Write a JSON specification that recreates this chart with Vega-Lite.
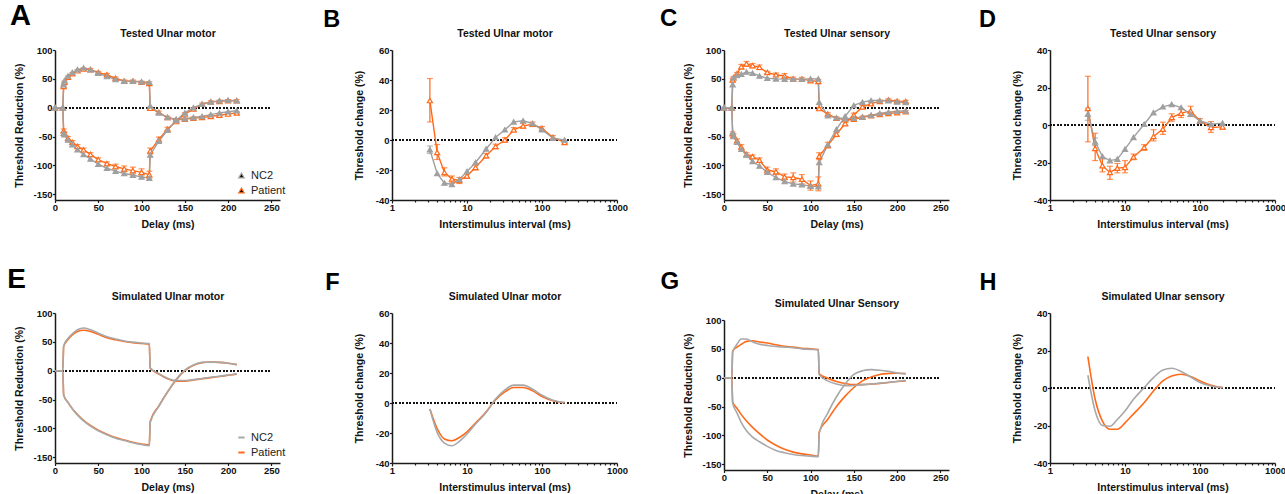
{
"$schema": "https://vega.github.io/schema/vega-lite/v6.json",
"background": "white",
"padding": {"left": 7, "top": 2, "right": 5, "bottom": 2},
"columns": 4,
"spacing": {"row": 113, "column": 101},
"bounds": "flush",
"align": "each",
"resolve": {"scale": {"stroke": "independent", "fill": "independent", "color": "independent", "x": "independent", "y": "independent"}},
"datasets": {
"A": [
{"s":"Patient","c":"d","x":0,"y":0},{"s":"Patient","c":"d","x":9,"y":0},
{"s":"Patient","c":"d","x":10,"y":37,"lo":35,"hi":39},{"s":"Patient","c":"d","x":11,"y":44,"lo":42,"hi":46},
{"s":"Patient","c":"d","x":15,"y":53,"lo":51,"hi":55},{"s":"Patient","c":"d","x":20,"y":59,"lo":57,"hi":61},
{"s":"Patient","c":"d","x":26,"y":64,"lo":62,"hi":66},{"s":"Patient","c":"d","x":33,"y":67,"lo":65,"hi":69},
{"s":"Patient","c":"d","x":41,"y":66,"lo":64,"hi":68},{"s":"Patient","c":"d","x":50,"y":61,"lo":59,"hi":63},
{"s":"Patient","c":"d","x":60,"y":57,"lo":54.5,"hi":59.5},{"s":"Patient","c":"d","x":70,"y":51,"lo":49,"hi":53},
{"s":"Patient","c":"d","x":80,"y":46,"lo":44,"hi":48},{"s":"Patient","c":"d","x":90,"y":46,"lo":44,"hi":48},
{"s":"Patient","c":"d","x":100,"y":44,"lo":42,"hi":46},{"s":"Patient","c":"d","x":109,"y":42,"lo":39,"hi":45},
{"s":"Patient","c":"d","x":110,"y":-1,"lo":-3,"hi":1},{"s":"Patient","c":"d","x":120,"y":-8,"lo":-10,"hi":-6},
{"s":"Patient","c":"d","x":130,"y":-17,"lo":-19,"hi":-15},{"s":"Patient","c":"d","x":140,"y":-21,"lo":-23,"hi":-19},
{"s":"Patient","c":"d","x":150,"y":-20,"lo":-22,"hi":-18},{"s":"Patient","c":"d","x":160,"y":-18,"lo":-20,"hi":-16},
{"s":"Patient","c":"d","x":170,"y":-17,"lo":-19,"hi":-15},{"s":"Patient","c":"d","x":180,"y":-15,"lo":-17,"hi":-13},
{"s":"Patient","c":"d","x":190,"y":-13,"lo":-15,"hi":-11},{"s":"Patient","c":"d","x":200,"y":-11,"lo":-13,"hi":-9},
{"s":"Patient","c":"d","x":210,"y":-9,"lo":-11,"hi":-7},
{"s":"Patient","c":"h","x":0,"y":0},{"s":"Patient","c":"h","x":9,"y":0},
{"s":"Patient","c":"h","x":10,"y":-40,"lo":-43,"hi":-37},{"s":"Patient","c":"h","x":11,"y":-45,"lo":-48,"hi":-42},
{"s":"Patient","c":"h","x":15,"y":-53,"lo":-56,"hi":-50},{"s":"Patient","c":"h","x":20,"y":-60,"lo":-63,"hi":-57},
{"s":"Patient","c":"h","x":26,"y":-67,"lo":-70,"hi":-64},{"s":"Patient","c":"h","x":33,"y":-73,"lo":-76,"hi":-70},
{"s":"Patient","c":"h","x":41,"y":-81,"lo":-84,"hi":-78},{"s":"Patient","c":"h","x":50,"y":-90,"lo":-93,"hi":-87},
{"s":"Patient","c":"h","x":60,"y":-97,"lo":-100,"hi":-94},{"s":"Patient","c":"h","x":70,"y":-102,"lo":-106,"hi":-98},
{"s":"Patient","c":"h","x":80,"y":-106,"lo":-111,"hi":-101},{"s":"Patient","c":"h","x":90,"y":-109,"lo":-115,"hi":-103},
{"s":"Patient","c":"h","x":100,"y":-112,"lo":-118,"hi":-106},{"s":"Patient","c":"h","x":109,"y":-116,"lo":-122,"hi":-110},
{"s":"Patient","c":"h","x":110,"y":-75,"lo":-80,"hi":-70},{"s":"Patient","c":"h","x":120,"y":-55,"lo":-59,"hi":-51},
{"s":"Patient","c":"h","x":130,"y":-37,"lo":-40,"hi":-34},{"s":"Patient","c":"h","x":140,"y":-24,"lo":-26,"hi":-22},
{"s":"Patient","c":"h","x":150,"y":-11,"lo":-13,"hi":-9},{"s":"Patient","c":"h","x":160,"y":-2,"lo":-4,"hi":0},
{"s":"Patient","c":"h","x":170,"y":6,"lo":4,"hi":8},{"s":"Patient","c":"h","x":180,"y":10,"lo":8,"hi":12},
{"s":"Patient","c":"h","x":190,"y":11,"lo":9,"hi":13},{"s":"Patient","c":"h","x":200,"y":12,"lo":10,"hi":14},
{"s":"Patient","c":"h","x":210,"y":12,"lo":10,"hi":14},
{"s":"NC2","c":"d","x":0,"y":0},{"s":"NC2","c":"d","x":9,"y":0},{"s":"NC2","c":"d","x":10,"y":40},{"s":"NC2","c":"d","x":11,"y":47},
{"s":"NC2","c":"d","x":15,"y":55},{"s":"NC2","c":"d","x":20,"y":61},{"s":"NC2","c":"d","x":26,"y":66},{"s":"NC2","c":"d","x":33,"y":69},
{"s":"NC2","c":"d","x":41,"y":66},{"s":"NC2","c":"d","x":50,"y":60},{"s":"NC2","c":"d","x":60,"y":54},{"s":"NC2","c":"d","x":70,"y":49},
{"s":"NC2","c":"d","x":80,"y":46},{"s":"NC2","c":"d","x":90,"y":46},{"s":"NC2","c":"d","x":100,"y":45},{"s":"NC2","c":"d","x":109,"y":44},
{"s":"NC2","c":"d","x":110,"y":3},{"s":"NC2","c":"d","x":120,"y":-9},{"s":"NC2","c":"d","x":130,"y":-17},{"s":"NC2","c":"d","x":140,"y":-20},
{"s":"NC2","c":"d","x":150,"y":-19},{"s":"NC2","c":"d","x":160,"y":-17},{"s":"NC2","c":"d","x":170,"y":-15},{"s":"NC2","c":"d","x":180,"y":-12},
{"s":"NC2","c":"d","x":190,"y":-9},{"s":"NC2","c":"d","x":200,"y":-7},{"s":"NC2","c":"d","x":210,"y":-5},
{"s":"NC2","c":"h","x":0,"y":0},{"s":"NC2","c":"h","x":9,"y":0},{"s":"NC2","c":"h","x":10,"y":-44},{"s":"NC2","c":"h","x":11,"y":-47},
{"s":"NC2","c":"h","x":15,"y":-56},{"s":"NC2","c":"h","x":20,"y":-64},{"s":"NC2","c":"h","x":26,"y":-73},{"s":"NC2","c":"h","x":33,"y":-81},
{"s":"NC2","c":"h","x":41,"y":-89},{"s":"NC2","c":"h","x":50,"y":-98},{"s":"NC2","c":"h","x":60,"y":-105},{"s":"NC2","c":"h","x":70,"y":-110},
{"s":"NC2","c":"h","x":80,"y":-114},{"s":"NC2","c":"h","x":90,"y":-117},{"s":"NC2","c":"h","x":100,"y":-120},{"s":"NC2","c":"h","x":109,"y":-122},
{"s":"NC2","c":"h","x":110,"y":-82},{"s":"NC2","c":"h","x":120,"y":-58},{"s":"NC2","c":"h","x":130,"y":-39},{"s":"NC2","c":"h","x":140,"y":-22},
{"s":"NC2","c":"h","x":150,"y":-9},{"s":"NC2","c":"h","x":160,"y":0},{"s":"NC2","c":"h","x":170,"y":6},{"s":"NC2","c":"h","x":180,"y":10},
{"s":"NC2","c":"h","x":190,"y":12},{"s":"NC2","c":"h","x":200,"y":13},{"s":"NC2","c":"h","x":210,"y":12}
],
"B": [
{"s":"Patient","x":3.2,"y":26.3,"lo":12,"hi":41},{"s":"Patient","x":4,"y":-8.3,"lo":-13,"hi":-3},
{"s":"Patient","x":5,"y":-21.6,"lo":-24,"hi":-18.5},{"s":"Patient","x":6.3,"y":-26,"lo":-28.5,"hi":-24},
{"s":"Patient","x":7.9,"y":-27,"lo":-29,"hi":-25},{"s":"Patient","x":10,"y":-23.9,"lo":-25.5,"hi":-22.5},
{"s":"Patient","x":13,"y":-18.3,"lo":-20,"hi":-16.5},{"s":"Patient","x":18,"y":-10.5,"lo":-12,"hi":-9},
{"s":"Patient","x":24,"y":-4.3,"lo":-5.8,"hi":-2.8},{"s":"Patient","x":32,"y":0,"lo":-1.5,"hi":1.5},
{"s":"Patient","x":42,"y":6.8,"lo":5.3,"hi":8.3},{"s":"Patient","x":56,"y":9.4,"lo":8,"hi":11},
{"s":"Patient","x":75,"y":10.5,"lo":9,"hi":12},{"s":"Patient","x":100,"y":7.7,"lo":6.3,"hi":9},
{"s":"Patient","x":140,"y":1.7,"lo":0.5,"hi":3},{"s":"Patient","x":200,"y":-1.6,"lo":-2.5,"hi":-0.7},
{"s":"NC2","x":3.2,"y":-6.5,"lo":-9,"hi":-4},{"s":"NC2","x":4,"y":-22.3},{"s":"NC2","x":5,"y":-28.7},{"s":"NC2","x":6.3,"y":-29.6},
{"s":"NC2","x":7.9,"y":-26.3},{"s":"NC2","x":10,"y":-21},{"s":"NC2","x":13,"y":-15},{"s":"NC2","x":18,"y":-6},
{"s":"NC2","x":24,"y":1.7},{"s":"NC2","x":32,"y":6.8},{"s":"NC2","x":42,"y":12.1},{"s":"NC2","x":56,"y":12.8},
{"s":"NC2","x":75,"y":11},{"s":"NC2","x":100,"y":6.8},{"s":"NC2","x":140,"y":1.2},{"s":"NC2","x":200,"y":0}
],
"C": [
{"s":"Patient","c":"d","x":0,"y":0},{"s":"Patient","c":"d","x":9,"y":0},
{"s":"Patient","c":"d","x":10,"y":48,"lo":45,"hi":51},{"s":"Patient","c":"d","x":11,"y":52,"lo":50,"hi":54},
{"s":"Patient","c":"d","x":15,"y":59,"lo":57,"hi":61},{"s":"Patient","c":"d","x":20,"y":71,"lo":67,"hi":75},
{"s":"Patient","c":"d","x":26,"y":76,"lo":72,"hi":80},{"s":"Patient","c":"d","x":33,"y":73,"lo":69.5,"hi":76.5},
{"s":"Patient","c":"d","x":41,"y":70,"lo":66,"hi":74},{"s":"Patient","c":"d","x":50,"y":61,"lo":59,"hi":63},
{"s":"Patient","c":"d","x":60,"y":57,"lo":54,"hi":60},{"s":"Patient","c":"d","x":70,"y":55,"lo":51,"hi":59},
{"s":"Patient","c":"d","x":80,"y":50,"lo":47,"hi":53},{"s":"Patient","c":"d","x":90,"y":49.5,"lo":46.5,"hi":52.5},
{"s":"Patient","c":"d","x":100,"y":47,"lo":44,"hi":50},{"s":"Patient","c":"d","x":109,"y":45.5,"lo":42,"hi":49},
{"s":"Patient","c":"d","x":110,"y":-1.5,"lo":-3.5,"hi":0.5},{"s":"Patient","c":"d","x":120,"y":-11,"lo":-13,"hi":-9},
{"s":"Patient","c":"d","x":130,"y":-18,"lo":-20,"hi":-16},{"s":"Patient","c":"d","x":140,"y":-21,"lo":-23,"hi":-19},
{"s":"Patient","c":"d","x":150,"y":-20,"lo":-22,"hi":-18},{"s":"Patient","c":"d","x":160,"y":-16.5,"lo":-18.5,"hi":-14.5},
{"s":"Patient","c":"d","x":170,"y":-14,"lo":-16,"hi":-12},{"s":"Patient","c":"d","x":180,"y":-11.5,"lo":-13.5,"hi":-9.5},
{"s":"Patient","c":"d","x":190,"y":-10,"lo":-12,"hi":-8},{"s":"Patient","c":"d","x":200,"y":-8.5,"lo":-10.5,"hi":-6.5},
{"s":"Patient","c":"d","x":210,"y":-7,"lo":-9,"hi":-5},
{"s":"Patient","c":"h","x":0,"y":0},{"s":"Patient","c":"h","x":9,"y":0},
{"s":"Patient","c":"h","x":10,"y":-45,"lo":-48,"hi":-42},{"s":"Patient","c":"h","x":11,"y":-48,"lo":-51,"hi":-45},
{"s":"Patient","c":"h","x":15,"y":-57,"lo":-60,"hi":-54},{"s":"Patient","c":"h","x":20,"y":-68,"lo":-72,"hi":-64},
{"s":"Patient","c":"h","x":26,"y":-81,"lo":-84,"hi":-78},{"s":"Patient","c":"h","x":33,"y":-85,"lo":-88,"hi":-82},
{"s":"Patient","c":"h","x":41,"y":-91,"lo":-95,"hi":-87},{"s":"Patient","c":"h","x":50,"y":-108,"lo":-113,"hi":-103},
{"s":"Patient","c":"h","x":60,"y":-111,"lo":-116,"hi":-106},{"s":"Patient","c":"h","x":70,"y":-120,"lo":-125,"hi":-115},
{"s":"Patient","c":"h","x":80,"y":-121,"lo":-129,"hi":-113},{"s":"Patient","c":"h","x":90,"y":-124,"lo":-132,"hi":-116},
{"s":"Patient","c":"h","x":100,"y":-135,"lo":-143,"hi":-127},{"s":"Patient","c":"h","x":109,"y":-132,"lo":-144,"hi":-120},
{"s":"Patient","c":"h","x":110,"y":-84,"lo":-90,"hi":-78},{"s":"Patient","c":"h","x":120,"y":-65,"lo":-70,"hi":-60},
{"s":"Patient","c":"h","x":130,"y":-46,"lo":-50,"hi":-42},{"s":"Patient","c":"h","x":140,"y":-27.5,"lo":-31.5,"hi":-23.5},
{"s":"Patient","c":"h","x":150,"y":-12.5,"lo":-15.5,"hi":-9.5},{"s":"Patient","c":"h","x":160,"y":1.3,"lo":-1,"hi":3.6},
{"s":"Patient","c":"h","x":170,"y":7,"lo":5,"hi":9},{"s":"Patient","c":"h","x":180,"y":11,"lo":9,"hi":13},
{"s":"Patient","c":"h","x":190,"y":13.5,"lo":11.5,"hi":15.5},{"s":"Patient","c":"h","x":200,"y":11.3,"lo":9.3,"hi":13.3},
{"s":"Patient","c":"h","x":210,"y":10.7,"lo":8.7,"hi":12.7},
{"s":"NC2","c":"d","x":0,"y":0},{"s":"NC2","c":"d","x":9,"y":0},{"s":"NC2","c":"d","x":10,"y":40},{"s":"NC2","c":"d","x":11,"y":52},
{"s":"NC2","c":"d","x":15,"y":56},{"s":"NC2","c":"d","x":20,"y":58},{"s":"NC2","c":"d","x":26,"y":62},{"s":"NC2","c":"d","x":33,"y":60},
{"s":"NC2","c":"d","x":41,"y":55},{"s":"NC2","c":"d","x":50,"y":51},{"s":"NC2","c":"d","x":60,"y":50},{"s":"NC2","c":"d","x":70,"y":49.5},
{"s":"NC2","c":"d","x":80,"y":49.5},{"s":"NC2","c":"d","x":90,"y":49.5},{"s":"NC2","c":"d","x":100,"y":50},{"s":"NC2","c":"d","x":109,"y":50},
{"s":"NC2","c":"d","x":110,"y":9.6},{"s":"NC2","c":"d","x":120,"y":-14},{"s":"NC2","c":"d","x":130,"y":-17.5},{"s":"NC2","c":"d","x":140,"y":-19},
{"s":"NC2","c":"d","x":150,"y":-18},{"s":"NC2","c":"d","x":160,"y":-16},{"s":"NC2","c":"d","x":170,"y":-13},{"s":"NC2","c":"d","x":180,"y":-10},
{"s":"NC2","c":"d","x":190,"y":-8},{"s":"NC2","c":"d","x":200,"y":-6},{"s":"NC2","c":"d","x":210,"y":-5.5},
{"s":"NC2","c":"h","x":0,"y":0},{"s":"NC2","c":"h","x":9,"y":0},{"s":"NC2","c":"h","x":10,"y":-43},{"s":"NC2","c":"h","x":11,"y":-50},
{"s":"NC2","c":"h","x":15,"y":-60},{"s":"NC2","c":"h","x":20,"y":-72},{"s":"NC2","c":"h","x":26,"y":-82},{"s":"NC2","c":"h","x":33,"y":-93},
{"s":"NC2","c":"h","x":41,"y":-101},{"s":"NC2","c":"h","x":50,"y":-112},{"s":"NC2","c":"h","x":60,"y":-121},{"s":"NC2","c":"h","x":70,"y":-128},
{"s":"NC2","c":"h","x":80,"y":-132},{"s":"NC2","c":"h","x":90,"y":-133.5},{"s":"NC2","c":"h","x":100,"y":-136},{"s":"NC2","c":"h","x":109,"y":-137},
{"s":"NC2","c":"h","x":110,"y":-95},{"s":"NC2","c":"h","x":120,"y":-64},{"s":"NC2","c":"h","x":130,"y":-37.5},{"s":"NC2","c":"h","x":140,"y":-15},
{"s":"NC2","c":"h","x":150,"y":4},{"s":"NC2","c":"h","x":160,"y":9.6},{"s":"NC2","c":"h","x":170,"y":12.4},{"s":"NC2","c":"h","x":180,"y":12.4},
{"s":"NC2","c":"h","x":190,"y":12},{"s":"NC2","c":"h","x":200,"y":10},{"s":"NC2","c":"h","x":210,"y":9}
],
"D": [
{"s":"Patient","x":3.2,"y":8.8,"lo":-9,"hi":26},{"s":"Patient","x":4,"y":-12.5,"lo":-19,"hi":-4.4},
{"s":"Patient","x":5,"y":-21.7,"lo":-25,"hi":-18},{"s":"Patient","x":6.3,"y":-25.3,"lo":-29,"hi":-22},
{"s":"Patient","x":7.9,"y":-23,"lo":-25.5,"hi":-20.5},{"s":"Patient","x":10,"y":-22.6,"lo":-25.5,"hi":-19},
{"s":"Patient","x":13,"y":-17,"lo":-18.5,"hi":-15.5},{"s":"Patient","x":18,"y":-12,"lo":-13.5,"hi":-10.5},
{"s":"Patient","x":24,"y":-6.1,"lo":-8.5,"hi":-2.5},{"s":"Patient","x":32,"y":-2.2,"lo":-5,"hi":1.5},
{"s":"Patient","x":42,"y":4,"lo":2,"hi":6},{"s":"Patient","x":56,"y":6.3,"lo":4,"hi":8.5},
{"s":"Patient","x":75,"y":7.5,"lo":4.5,"hi":10},{"s":"Patient","x":100,"y":2.2,"lo":1,"hi":3.4},
{"s":"Patient","x":140,"y":-1.3,"lo":-4,"hi":1.8},{"s":"Patient","x":200,"y":-1,"lo":-2.3,"hi":0},
{"s":"NC2","x":3.2,"y":5.8,"lo":2.5,"hi":9},{"s":"NC2","x":4,"y":-9,"lo":-11,"hi":-7},{"s":"NC2","x":5,"y":-16.8},{"s":"NC2","x":6.3,"y":-19},
{"s":"NC2","x":7.9,"y":-18.2},{"s":"NC2","x":10,"y":-12.9},{"s":"NC2","x":13,"y":-6.6},{"s":"NC2","x":18,"y":0.4},
{"s":"NC2","x":24,"y":6.6},{"s":"NC2","x":32,"y":9.7},{"s":"NC2","x":42,"y":11},{"s":"NC2","x":56,"y":9.3},
{"s":"NC2","x":75,"y":5.8},{"s":"NC2","x":100,"y":2.2},{"s":"NC2","x":140,"y":0.4},{"s":"NC2","x":200,"y":1}
],
"E": [
{"s":"Patient","c":"d","x":0,"y":0},{"s":"Patient","c":"d","x":9,"y":0},{"s":"Patient","c":"d","x":10,"y":42},{"s":"Patient","c":"d","x":15,"y":54},
{"s":"Patient","c":"d","x":20,"y":62},{"s":"Patient","c":"d","x":26,"y":68},{"s":"Patient","c":"d","x":33,"y":70},{"s":"Patient","c":"d","x":41,"y":68},
{"s":"Patient","c":"d","x":50,"y":63},{"s":"Patient","c":"d","x":60,"y":57},{"s":"Patient","c":"d","x":70,"y":53.5},{"s":"Patient","c":"d","x":80,"y":50.5},
{"s":"Patient","c":"d","x":90,"y":48.5},{"s":"Patient","c":"d","x":100,"y":47},{"s":"Patient","c":"d","x":109,"y":46},{"s":"Patient","c":"d","x":110,"y":4},
{"s":"Patient","c":"d","x":120,"y":-6},{"s":"Patient","c":"d","x":130,"y":-14},{"s":"Patient","c":"d","x":140,"y":-18},{"s":"Patient","c":"d","x":150,"y":-18},
{"s":"Patient","c":"d","x":160,"y":-16},{"s":"Patient","c":"d","x":170,"y":-14},{"s":"Patient","c":"d","x":180,"y":-12},{"s":"Patient","c":"d","x":190,"y":-10},
{"s":"Patient","c":"d","x":200,"y":-8},{"s":"Patient","c":"d","x":210,"y":-6},
{"s":"Patient","c":"h","x":0,"y":0},{"s":"Patient","c":"h","x":9,"y":0},{"s":"Patient","c":"h","x":10,"y":-42},{"s":"Patient","c":"h","x":15,"y":-55},
{"s":"Patient","c":"h","x":20,"y":-66},{"s":"Patient","c":"h","x":26,"y":-76},{"s":"Patient","c":"h","x":33,"y":-86},{"s":"Patient","c":"h","x":41,"y":-95},
{"s":"Patient","c":"h","x":50,"y":-103},{"s":"Patient","c":"h","x":60,"y":-110},{"s":"Patient","c":"h","x":70,"y":-116},{"s":"Patient","c":"h","x":80,"y":-120},
{"s":"Patient","c":"h","x":90,"y":-124},{"s":"Patient","c":"h","x":100,"y":-127},{"s":"Patient","c":"h","x":109,"y":-129},{"s":"Patient","c":"h","x":110,"y":-88},
{"s":"Patient","c":"h","x":120,"y":-61},{"s":"Patient","c":"h","x":130,"y":-37},{"s":"Patient","c":"h","x":140,"y":-16},{"s":"Patient","c":"h","x":150,"y":0},
{"s":"Patient","c":"h","x":160,"y":9.5},{"s":"Patient","c":"h","x":170,"y":14},{"s":"Patient","c":"h","x":180,"y":15},{"s":"Patient","c":"h","x":190,"y":14.5},
{"s":"Patient","c":"h","x":200,"y":13},{"s":"Patient","c":"h","x":210,"y":10.5},
{"s":"NC2","c":"d","x":0,"y":0},{"s":"NC2","c":"d","x":9,"y":0},{"s":"NC2","c":"d","x":10,"y":43},{"s":"NC2","c":"d","x":15,"y":56},
{"s":"NC2","c":"d","x":20,"y":64},{"s":"NC2","c":"d","x":26,"y":71},{"s":"NC2","c":"d","x":33,"y":74},{"s":"NC2","c":"d","x":41,"y":71},
{"s":"NC2","c":"d","x":50,"y":65},{"s":"NC2","c":"d","x":60,"y":59},{"s":"NC2","c":"d","x":70,"y":55},{"s":"NC2","c":"d","x":80,"y":51.5},
{"s":"NC2","c":"d","x":90,"y":49.5},{"s":"NC2","c":"d","x":100,"y":48},{"s":"NC2","c":"d","x":109,"y":47},{"s":"NC2","c":"d","x":110,"y":5},
{"s":"NC2","c":"d","x":120,"y":-5},{"s":"NC2","c":"d","x":130,"y":-13},{"s":"NC2","c":"d","x":140,"y":-17},{"s":"NC2","c":"d","x":150,"y":-17},
{"s":"NC2","c":"d","x":160,"y":-15.5},{"s":"NC2","c":"d","x":170,"y":-13.5},{"s":"NC2","c":"d","x":180,"y":-11.5},{"s":"NC2","c":"d","x":190,"y":-9.5},
{"s":"NC2","c":"d","x":200,"y":-7.5},{"s":"NC2","c":"d","x":210,"y":-5.5},
{"s":"NC2","c":"h","x":0,"y":0},{"s":"NC2","c":"h","x":9,"y":0},{"s":"NC2","c":"h","x":10,"y":-42},{"s":"NC2","c":"h","x":15,"y":-55},
{"s":"NC2","c":"h","x":20,"y":-66},{"s":"NC2","c":"h","x":26,"y":-77},{"s":"NC2","c":"h","x":33,"y":-87},{"s":"NC2","c":"h","x":41,"y":-96},
{"s":"NC2","c":"h","x":50,"y":-104},{"s":"NC2","c":"h","x":60,"y":-111},{"s":"NC2","c":"h","x":70,"y":-117},{"s":"NC2","c":"h","x":80,"y":-121},
{"s":"NC2","c":"h","x":90,"y":-125},{"s":"NC2","c":"h","x":100,"y":-128},{"s":"NC2","c":"h","x":109,"y":-130},{"s":"NC2","c":"h","x":110,"y":-90},
{"s":"NC2","c":"h","x":120,"y":-62},{"s":"NC2","c":"h","x":130,"y":-37},{"s":"NC2","c":"h","x":140,"y":-15},{"s":"NC2","c":"h","x":150,"y":1},
{"s":"NC2","c":"h","x":160,"y":10},{"s":"NC2","c":"h","x":170,"y":14.5},{"s":"NC2","c":"h","x":180,"y":15},{"s":"NC2","c":"h","x":190,"y":14.5},
{"s":"NC2","c":"h","x":200,"y":13},{"s":"NC2","c":"h","x":210,"y":10.5}
],
"F": [
{"s":"Patient","x":3.2,"y":-4},{"s":"Patient","x":4,"y":-17},{"s":"Patient","x":5,"y":-24},{"s":"Patient","x":6.3,"y":-25.2},
{"s":"Patient","x":7.9,"y":-23},{"s":"Patient","x":10,"y":-19.2},{"s":"Patient","x":13,"y":-13.4},{"s":"Patient","x":18,"y":-5.9},
{"s":"Patient","x":24,"y":2.1},{"s":"Patient","x":32,"y":7.4},{"s":"Patient","x":42,"y":10.3},{"s":"Patient","x":56,"y":10.3},
{"s":"Patient","x":75,"y":8.1},{"s":"Patient","x":100,"y":4.3},{"s":"Patient","x":140,"y":1.5},{"s":"Patient","x":200,"y":0.1},
{"s":"NC2","x":3.2,"y":-4},{"s":"NC2","x":4,"y":-19.6},{"s":"NC2","x":5,"y":-26.7},{"s":"NC2","x":6.3,"y":-28.5},
{"s":"NC2","x":7.9,"y":-25.6},{"s":"NC2","x":10,"y":-20.7},{"s":"NC2","x":13,"y":-14},{"s":"NC2","x":18,"y":-6.3},
{"s":"NC2","x":24,"y":2.6},{"s":"NC2","x":32,"y":8.8},{"s":"NC2","x":42,"y":11.9},{"s":"NC2","x":56,"y":11.9},
{"s":"NC2","x":75,"y":9.2},{"s":"NC2","x":100,"y":5.2},{"s":"NC2","x":140,"y":1.9},{"s":"NC2","x":200,"y":0.4}
],
"G": [
{"s":"Patient","c":"d","x":0,"y":0},{"s":"Patient","c":"d","x":9,"y":0},{"s":"Patient","c":"d","x":10,"y":46},{"s":"Patient","c":"d","x":15,"y":53},
{"s":"Patient","c":"d","x":20,"y":58},{"s":"Patient","c":"d","x":26,"y":63},{"s":"Patient","c":"d","x":33,"y":64},{"s":"Patient","c":"d","x":41,"y":62},
{"s":"Patient","c":"d","x":50,"y":60},{"s":"Patient","c":"d","x":60,"y":57},{"s":"Patient","c":"d","x":70,"y":54.5},{"s":"Patient","c":"d","x":80,"y":53},
{"s":"Patient","c":"d","x":90,"y":51},{"s":"Patient","c":"d","x":100,"y":50},{"s":"Patient","c":"d","x":109,"y":49},{"s":"Patient","c":"d","x":110,"y":6.7},
{"s":"Patient","c":"d","x":120,"y":-1},{"s":"Patient","c":"d","x":130,"y":-6.7},{"s":"Patient","c":"d","x":140,"y":-10},{"s":"Patient","c":"d","x":150,"y":-12},
{"s":"Patient","c":"d","x":160,"y":-12},{"s":"Patient","c":"d","x":170,"y":-11},{"s":"Patient","c":"d","x":180,"y":-10},{"s":"Patient","c":"d","x":190,"y":-8.3},
{"s":"Patient","c":"d","x":200,"y":-6.7},{"s":"Patient","c":"d","x":210,"y":-5.6},
{"s":"Patient","c":"h","x":0,"y":0},{"s":"Patient","c":"h","x":9,"y":0},{"s":"Patient","c":"h","x":10,"y":-42},{"s":"Patient","c":"h","x":15,"y":-53},
{"s":"Patient","c":"h","x":20,"y":-64},{"s":"Patient","c":"h","x":26,"y":-75},{"s":"Patient","c":"h","x":33,"y":-86},{"s":"Patient","c":"h","x":41,"y":-97},
{"s":"Patient","c":"h","x":50,"y":-108},{"s":"Patient","c":"h","x":60,"y":-117},{"s":"Patient","c":"h","x":70,"y":-124},{"s":"Patient","c":"h","x":80,"y":-129},
{"s":"Patient","c":"h","x":90,"y":-132},{"s":"Patient","c":"h","x":100,"y":-134},{"s":"Patient","c":"h","x":109,"y":-136},{"s":"Patient","c":"h","x":110,"y":-94},
{"s":"Patient","c":"h","x":120,"y":-72},{"s":"Patient","c":"h","x":130,"y":-50},{"s":"Patient","c":"h","x":140,"y":-32},{"s":"Patient","c":"h","x":150,"y":-17},
{"s":"Patient","c":"h","x":160,"y":-5.6},{"s":"Patient","c":"h","x":170,"y":1},{"s":"Patient","c":"h","x":180,"y":5.6},{"s":"Patient","c":"h","x":190,"y":7.2},
{"s":"Patient","c":"h","x":200,"y":7.8},{"s":"Patient","c":"h","x":210,"y":7.2},
{"s":"NC2","c":"d","x":0,"y":0},{"s":"NC2","c":"d","x":9,"y":0},{"s":"NC2","c":"d","x":10,"y":44},{"s":"NC2","c":"d","x":15,"y":58},
{"s":"NC2","c":"d","x":20,"y":67},{"s":"NC2","c":"d","x":26,"y":67},{"s":"NC2","c":"d","x":33,"y":62},{"s":"NC2","c":"d","x":41,"y":58},
{"s":"NC2","c":"d","x":50,"y":56},{"s":"NC2","c":"d","x":60,"y":54},{"s":"NC2","c":"d","x":70,"y":53},{"s":"NC2","c":"d","x":80,"y":52},
{"s":"NC2","c":"d","x":90,"y":50},{"s":"NC2","c":"d","x":100,"y":49},{"s":"NC2","c":"d","x":109,"y":48},{"s":"NC2","c":"d","x":110,"y":5.6},
{"s":"NC2","c":"d","x":120,"y":-5.6},{"s":"NC2","c":"d","x":130,"y":-11},{"s":"NC2","c":"d","x":140,"y":-14},{"s":"NC2","c":"d","x":150,"y":-13.5},
{"s":"NC2","c":"d","x":160,"y":-12},{"s":"NC2","c":"d","x":170,"y":-11},{"s":"NC2","c":"d","x":180,"y":-9.4},{"s":"NC2","c":"d","x":190,"y":-8},
{"s":"NC2","c":"d","x":200,"y":-6.5},{"s":"NC2","c":"d","x":210,"y":-4.5},
{"s":"NC2","c":"h","x":0,"y":0},{"s":"NC2","c":"h","x":9,"y":0},{"s":"NC2","c":"h","x":10,"y":-44},{"s":"NC2","c":"h","x":15,"y":-61},
{"s":"NC2","c":"h","x":20,"y":-78},{"s":"NC2","c":"h","x":26,"y":-92},{"s":"NC2","c":"h","x":33,"y":-103},{"s":"NC2","c":"h","x":41,"y":-111},
{"s":"NC2","c":"h","x":50,"y":-119},{"s":"NC2","c":"h","x":60,"y":-126},{"s":"NC2","c":"h","x":70,"y":-130},{"s":"NC2","c":"h","x":80,"y":-133},
{"s":"NC2","c":"h","x":90,"y":-135},{"s":"NC2","c":"h","x":100,"y":-136},{"s":"NC2","c":"h","x":109,"y":-137},{"s":"NC2","c":"h","x":110,"y":-97},
{"s":"NC2","c":"h","x":120,"y":-61},{"s":"NC2","c":"h","x":130,"y":-33},{"s":"NC2","c":"h","x":140,"y":-11},{"s":"NC2","c":"h","x":150,"y":5.6},
{"s":"NC2","c":"h","x":160,"y":12},{"s":"NC2","c":"h","x":170,"y":14},{"s":"NC2","c":"h","x":180,"y":13},{"s":"NC2","c":"h","x":190,"y":11},
{"s":"NC2","c":"h","x":200,"y":8},{"s":"NC2","c":"h","x":210,"y":6.7}
],
"H": [
{"s":"Patient","x":3.2,"y":16.8},{"s":"Patient","x":4,"y":-6},{"s":"Patient","x":5,"y":-17.7},{"s":"Patient","x":6.3,"y":-22},
{"s":"Patient","x":7.9,"y":-22},{"s":"Patient","x":10,"y":-18.6},{"s":"Patient","x":13,"y":-13.8},{"s":"Patient","x":18,"y":-7.9},
{"s":"Patient","x":24,"y":-1.6},{"s":"Patient","x":32,"y":3.8},{"s":"Patient","x":42,"y":6.4},{"s":"Patient","x":56,"y":7.3},
{"s":"Patient","x":75,"y":6.1},{"s":"Patient","x":100,"y":3.8},{"s":"Patient","x":140,"y":1.4},{"s":"Patient","x":200,"y":0.2},
{"s":"NC2","x":3.2,"y":6.8},{"s":"NC2","x":4,"y":-12.3},{"s":"NC2","x":5,"y":-20},{"s":"NC2","x":6.3,"y":-20.4},
{"s":"NC2","x":7.9,"y":-16.8},{"s":"NC2","x":10,"y":-12.3},{"s":"NC2","x":13,"y":-6},{"s":"NC2","x":18,"y":0.2},
{"s":"NC2","x":24,"y":5.5},{"s":"NC2","x":32,"y":9.6},{"s":"NC2","x":42,"y":10.5},{"s":"NC2","x":56,"y":8.8},
{"s":"NC2","x":75,"y":5.9},{"s":"NC2","x":100,"y":2.9},{"s":"NC2","x":140,"y":1.1},{"s":"NC2","x":200,"y":0.2}
]
},
"concat": [
{
 "width": 235.7, "height": 150,
 "data": {"name": "A"},
 "title": {"text": "A", "fontSize": 29, "dx": -45, "offset": -3},
 "layer": [
  {"mark": {"type": "rule", "color": "#111", "strokeWidth": 1.2, "strokeDash": [1.5, 2]},
   "encoding": {"x": {"datum": 0, "type": "quantitative", "axis": {"orient": "top", "title": "Tested Ulnar motor", "labels": false, "ticks": false, "domain": false, "titleY": -14, "titleBaseline": "alphabetic"}},
    "x2": {"datum": 250}, "y": {"datum": 0, "type": "quantitative", "axis": null}}},
  {"mark": {"type": "line", "strokeWidth": 1.4},
   "encoding": {
    "x": {"field": "x", "type": "quantitative", "scale": {"domain": [0, 250], "range": [0, 225]}, "axis": {"values": [0, 50, 100, 150, 200, 250], "labelExpr": "toString(datum.value)", "title": "Delay (ms)", "titleY": 27, "titleBaseline": "alphabetic"}},
    "y": {"field": "y", "type": "quantitative", "scale": {"domain": [-150, 100]}, "axis": {"values": [-150, -100, -50, 0, 50, 100], "labelExpr": "toString(datum.value)", "title": "Threshold Reduction (%)", "titleX": -32.5, "titleY": 75, "titleBaseline": "alphabetic"}},
    "color": {"field": "s", "type": "nominal", "scale": {"domain": ["Patient", "NC2"], "range": ["#ff6a1a", "#a0a0a0"]}, "legend": null},
    "detail": {"field": "c"}}},
  {"transform": [{"filter": "isValid(datum.lo)"}],
   "mark": {"type": "errorbar", "ticks": {"size": 6}, "thickness": 1.2},
   "encoding": {
    "x": {"field": "x", "type": "quantitative", "axis": null},
    "y": {"field": "lo", "type": "quantitative", "axis": null},
    "y2": {"field": "hi"},
    "color": {"field": "s", "type": "nominal", "scale": {"domain": ["Patient", "NC2"], "range": ["#ff6a1a", "#a0a0a0"]}, "legend": null}}},
  {"mark": {"type": "point", "shape": "triangle-up", "size": 26, "strokeWidth": 1.2, "opacity": 1, "filled": true},
   "encoding": {
    "x": {"field": "x", "type": "quantitative", "axis": null},
    "y": {"field": "y", "type": "quantitative", "axis": null},
    "stroke": {"field": "s", "type": "nominal", "scale": {"domain": ["NC2", "Patient"], "range": ["#a0a0a0", "#ff6a1a"]}, "legend": {"orient": "none", "legendX": 181, "legendY": 120, "title": null, "labelFontSize": 11, "labelFont": "Liberation Sans", "labelFontWeight": "normal", "labelColor": "#222", "labelOffset": 4, "rowPadding": 3, "padding": 0, "symbolType": "triangle-up", "symbolSize": 30, "symbolStrokeWidth": 1.2, "encode": {"symbols": {"update": {"fill": {"signal": "datum.value === 'NC2' ? '#a0a0a0' : '#ffffff'"}, "fillOpacity": {"value": 1}, "opacity": {"value": 1}}}}}},
    "fill": {"field": "s", "type": "nominal", "scale": {"domain": ["Patient", "NC2"], "range": ["#ffffff", "#a0a0a0"]}, "legend": null}}}
 ],
 "resolve": {"axis": {"x": "independent", "y": "independent"}}
},
{
 "width": 230.6, "height": 150,
 "data": {"name": "B"},
 "title": {"text": "B", "fontSize": 23.5, "dx": -68.7, "offset": -3},
 "layer": [
  {"mark": {"type": "rule", "color": "#111", "strokeWidth": 1.2, "strokeDash": [1.5, 2]},
   "encoding": {"x": {"datum": 1, "type": "quantitative", "axis": {"orient": "top", "title": "Tested Ulnar motor", "labels": false, "ticks": false, "domain": false, "titleY": -14, "titleBaseline": "alphabetic"}},
    "x2": {"datum": 1000}, "y": {"datum": 0, "type": "quantitative", "axis": null}}},
  {"mark": {"type": "line", "strokeWidth": 1.4},
   "encoding": {
    "x": {"field": "x", "type": "quantitative", "scale": {"type": "log", "domain": [1, 1000], "range": [0, 225]}, "axis": {"values": [1,2,3,4,5,6,7,8,9,10,20,30,40,50,60,70,80,90,100,200,300,400,500,600,700,800,900,1000], "labelExpr": "(datum.value == 1 || datum.value == 10 || datum.value == 100 || datum.value == 1000) ? toString(datum.value) : ''", "tickSize": {"condition": {"test": "datum.value == 1 || datum.value == 10 || datum.value == 100 || datum.value == 1000", "value": 3}, "value": 2}, "title": "Interstimulus interval (ms)", "titleY": 27, "titleBaseline": "alphabetic"}},
    "y": {"field": "y", "type": "quantitative", "scale": {"domain": [-40, 60]}, "axis": {"values": [-40, -20, 0, 20, 40, 60], "labelExpr": "toString(datum.value)", "title": "Threshold change (%)", "titleX": -29.8, "titleY": 75, "titleBaseline": "alphabetic"}},
    "color": {"field": "s", "type": "nominal", "scale": {"domain": ["NC2", "Patient"], "range": ["#a0a0a0", "#ff6a1a"]}, "legend": null}}},
  {"transform": [{"filter": "isValid(datum.lo)"}],
   "mark": {"type": "errorbar", "ticks": {"size": 6}, "thickness": 1.2},
   "encoding": {
    "x": {"field": "x", "type": "quantitative", "axis": null},
    "y": {"field": "lo", "type": "quantitative", "axis": null},
    "y2": {"field": "hi"},
    "color": {"field": "s", "type": "nominal", "scale": {"domain": ["NC2", "Patient"], "range": ["#a0a0a0", "#ff6a1a"]}, "legend": null}}},
  {"mark": {"type": "point", "shape": "triangle-up", "size": 26, "strokeWidth": 1.2, "opacity": 1, "filled": true},
   "encoding": {
    "x": {"field": "x", "type": "quantitative", "axis": null},
    "y": {"field": "y", "type": "quantitative", "axis": null},
    "stroke": {"field": "s", "type": "nominal", "scale": {"domain": ["NC2", "Patient"], "range": ["#a0a0a0", "#ff6a1a"]}, "legend": null},
    "fill": {"field": "s", "type": "nominal", "scale": {"domain": ["NC2", "Patient"], "range": ["#a0a0a0", "#ffffff"]}, "legend": null}}}
 ],
 "resolve": {"axis": {"x": "independent", "y": "independent"}}
},
{
 "width": 225, "height": 150,
 "data": {"name": "C"},
 "title": {"text": "C", "fontSize": 24, "dx": -64, "offset": -3},
 "layer": [
  {"mark": {"type": "rule", "color": "#111", "strokeWidth": 1.2, "strokeDash": [1.5, 2]},
   "encoding": {"x": {"datum": 0, "type": "quantitative", "axis": {"orient": "top", "title": "Tested Ulnar sensory", "labels": false, "ticks": false, "domain": false, "titleY": -14, "titleBaseline": "alphabetic"}},
    "x2": {"datum": 250}, "y": {"datum": 0, "type": "quantitative", "axis": null}}},
  {"mark": {"type": "line", "strokeWidth": 1.4},
   "encoding": {
    "x": {"field": "x", "type": "quantitative", "scale": {"domain": [0, 250], "range": [0, 225]}, "axis": {"values": [0, 50, 100, 150, 200, 250], "labelExpr": "toString(datum.value)", "title": "Delay (ms)", "titleY": 27, "titleBaseline": "alphabetic"}},
    "y": {"field": "y", "type": "quantitative", "scale": {"domain": [-150, 100]}, "axis": {"values": [-150, -100, -50, 0, 50, 100], "labelExpr": "toString(datum.value)", "title": "Threshold Reduction (%)", "titleX": -32.5, "titleY": 75, "titleBaseline": "alphabetic"}},
    "color": {"field": "s", "type": "nominal", "scale": {"domain": ["NC2", "Patient"], "range": ["#a0a0a0", "#ff6a1a"]}, "legend": null},
    "detail": {"field": "c"}}},
  {"transform": [{"filter": "isValid(datum.lo)"}],
   "mark": {"type": "errorbar", "ticks": {"size": 6}, "thickness": 1.2},
   "encoding": {
    "x": {"field": "x", "type": "quantitative", "axis": null},
    "y": {"field": "lo", "type": "quantitative", "axis": null},
    "y2": {"field": "hi"},
    "color": {"field": "s", "type": "nominal", "scale": {"domain": ["NC2", "Patient"], "range": ["#a0a0a0", "#ff6a1a"]}, "legend": null}}},
  {"mark": {"type": "point", "shape": "triangle-up", "size": 26, "strokeWidth": 1.2, "opacity": 1, "filled": true},
   "encoding": {
    "x": {"field": "x", "type": "quantitative", "axis": null},
    "y": {"field": "y", "type": "quantitative", "axis": null},
    "stroke": {"field": "s", "type": "nominal", "scale": {"domain": ["NC2", "Patient"], "range": ["#a0a0a0", "#ff6a1a"]}, "legend": null},
    "fill": {"field": "s", "type": "nominal", "scale": {"domain": ["NC2", "Patient"], "range": ["#a0a0a0", "#ffffff"]}, "legend": null}}}
 ],
 "resolve": {"axis": {"x": "independent", "y": "independent"}}
},
{
 "width": 225, "height": 150,
 "data": {"name": "D"},
 "title": {"text": "D", "fontSize": 23.5, "dx": -71, "offset": -3},
 "layer": [
  {"mark": {"type": "rule", "color": "#111", "strokeWidth": 1.2, "strokeDash": [1.5, 2]},
   "encoding": {"x": {"datum": 1, "type": "quantitative", "axis": {"orient": "top", "title": "Tested Ulnar sensory", "labels": false, "ticks": false, "domain": false, "titleY": -14, "titleBaseline": "alphabetic"}},
    "x2": {"datum": 1000}, "y": {"datum": 0, "type": "quantitative", "axis": null}}},
  {"mark": {"type": "line", "strokeWidth": 1.4},
   "encoding": {
    "x": {"field": "x", "type": "quantitative", "scale": {"type": "log", "domain": [1, 1000], "range": [0, 225]}, "axis": {"values": [1,2,3,4,5,6,7,8,9,10,20,30,40,50,60,70,80,90,100,200,300,400,500,600,700,800,900,1000], "labelExpr": "(datum.value == 1 || datum.value == 10 || datum.value == 100 || datum.value == 1000) ? toString(datum.value) : ''", "tickSize": {"condition": {"test": "datum.value == 1 || datum.value == 10 || datum.value == 100 || datum.value == 1000", "value": 3}, "value": 2}, "title": "Interstimulus interval (ms)", "titleY": 27, "titleBaseline": "alphabetic"}},
    "y": {"field": "y", "type": "quantitative", "scale": {"domain": [-40, 40]}, "axis": {"values": [-40, -20, 0, 20, 40], "labelExpr": "toString(datum.value)", "title": "Threshold change (%)", "titleX": -29.8, "titleY": 75, "titleBaseline": "alphabetic"}},
    "color": {"field": "s", "type": "nominal", "scale": {"domain": ["NC2", "Patient"], "range": ["#a0a0a0", "#ff6a1a"]}, "legend": null}}},
  {"transform": [{"filter": "isValid(datum.lo)"}],
   "mark": {"type": "errorbar", "ticks": {"size": 6}, "thickness": 1.2},
   "encoding": {
    "x": {"field": "x", "type": "quantitative", "axis": null},
    "y": {"field": "lo", "type": "quantitative", "axis": null},
    "y2": {"field": "hi"},
    "color": {"field": "s", "type": "nominal", "scale": {"domain": ["NC2", "Patient"], "range": ["#a0a0a0", "#ff6a1a"]}, "legend": null}}},
  {"mark": {"type": "point", "shape": "triangle-up", "size": 26, "strokeWidth": 1.2, "opacity": 1, "filled": true},
   "encoding": {
    "x": {"field": "x", "type": "quantitative", "axis": null},
    "y": {"field": "y", "type": "quantitative", "axis": null},
    "stroke": {"field": "s", "type": "nominal", "scale": {"domain": ["NC2", "Patient"], "range": ["#a0a0a0", "#ff6a1a"]}, "legend": null},
    "fill": {"field": "s", "type": "nominal", "scale": {"domain": ["NC2", "Patient"], "range": ["#a0a0a0", "#ffffff"]}, "legend": null}}}
 ],
 "resolve": {"axis": {"x": "independent", "y": "independent"}}
},
{
 "width": 235.7, "height": 150,
 "data": {"name": "E"},
 "title": {"text": "E", "fontSize": 28, "dx": -47.7, "offset": -3},
 "layer": [
  {"mark": {"type": "rule", "color": "#111", "strokeWidth": 1.2, "strokeDash": [1.5, 2]},
   "encoding": {"x": {"datum": 0, "type": "quantitative", "axis": {"orient": "top", "title": "Simulated Ulnar motor", "labels": false, "ticks": false, "domain": false, "titleY": -14, "titleBaseline": "alphabetic"}},
    "x2": {"datum": 250}, "y": {"datum": 0, "type": "quantitative", "axis": null}}},
  {"mark": {"type": "line", "strokeWidth": 1.6, "interpolate": "monotone"},
   "encoding": {
    "x": {"field": "x", "type": "quantitative", "scale": {"domain": [0, 250], "range": [0, 225]}, "axis": {"values": [0, 50, 100, 150, 200, 250], "labelExpr": "toString(datum.value)", "title": "Delay (ms)", "titleY": 27, "titleBaseline": "alphabetic"}},
    "y": {"field": "y", "type": "quantitative", "scale": {"domain": [-150, 100]}, "axis": {"values": [-150, -100, -50, 0, 50, 100], "labelExpr": "toString(datum.value)", "title": "Threshold Reduction (%)", "titleX": -32.5, "titleY": 75, "titleBaseline": "alphabetic"}},
    "stroke": {"field": "s", "type": "nominal", "scale": {"domain": ["NC2", "Patient"], "range": ["#a8a8a8", "#ff6a1a"]}, "legend": {"orient": "none", "legendX": 181, "legendY": 119, "title": null, "labelFontSize": 11, "labelFont": "Liberation Sans", "labelFontWeight": "normal", "labelColor": "#222", "labelOffset": 4, "rowPadding": 3, "padding": 0, "symbolType": "stroke", "symbolSize": 40, "symbolStrokeWidth": 2}},
    "detail": {"field": "c"}}}
 ],
 "resolve": {"axis": {"x": "independent", "y": "independent"}}
},
{
 "width": 230.6, "height": 150,
 "data": {"name": "F"},
 "title": {"text": "F", "fontSize": 23.5, "dx": -66.7, "offset": -3},
 "layer": [
  {"mark": {"type": "rule", "color": "#111", "strokeWidth": 1.2, "strokeDash": [1.5, 2]},
   "encoding": {"x": {"datum": 1, "type": "quantitative", "axis": {"orient": "top", "title": "Simulated Ulnar motor", "labels": false, "ticks": false, "domain": false, "titleY": -14, "titleBaseline": "alphabetic"}},
    "x2": {"datum": 1000}, "y": {"datum": 0, "type": "quantitative", "axis": null}}},
  {"mark": {"type": "line", "strokeWidth": 1.6, "interpolate": "monotone"},
   "encoding": {
    "x": {"field": "x", "type": "quantitative", "scale": {"type": "log", "domain": [1, 1000], "range": [0, 225]}, "axis": {"values": [1,2,3,4,5,6,7,8,9,10,20,30,40,50,60,70,80,90,100,200,300,400,500,600,700,800,900,1000], "labelExpr": "(datum.value == 1 || datum.value == 10 || datum.value == 100 || datum.value == 1000) ? toString(datum.value) : ''", "tickSize": {"condition": {"test": "datum.value == 1 || datum.value == 10 || datum.value == 100 || datum.value == 1000", "value": 3}, "value": 2}, "title": "Interstimulus interval (ms)", "titleY": 27, "titleBaseline": "alphabetic"}},
    "y": {"field": "y", "type": "quantitative", "scale": {"domain": [-40, 60]}, "axis": {"values": [-40, -20, 0, 20, 40, 60], "labelExpr": "toString(datum.value)", "title": "Threshold change (%)", "titleX": -29.8, "titleY": 75, "titleBaseline": "alphabetic"}},
    "stroke": {"field": "s", "type": "nominal", "scale": {"domain": ["NC2", "Patient"], "range": ["#a8a8a8", "#ff6a1a"]}, "legend": null}}}
 ],
 "resolve": {"axis": {"x": "independent", "y": "independent"}}
},
{
 "width": 225, "height": 157,
 "data": {"name": "G"},
 "title": {"text": "G", "fontSize": 24, "dx": -63.6, "offset": 4},
 "layer": [
  {"mark": {"type": "rule", "color": "#111", "strokeWidth": 1.2, "strokeDash": [1.5, 2]},
   "encoding": {"x": {"datum": 0, "type": "quantitative", "axis": {"orient": "top", "title": "Simulated Ulnar Sensory", "labels": false, "ticks": false, "domain": false, "titleY": -7, "titleBaseline": "alphabetic"}},
    "x2": {"datum": 250}, "y": {"datum": 0, "type": "quantitative", "axis": null}}},
  {"mark": {"type": "line", "strokeWidth": 1.6, "interpolate": "monotone"},
   "encoding": {
    "x": {"field": "x", "type": "quantitative", "scale": {"domain": [0, 250], "range": [0, 225]}, "axis": {"values": [0, 50, 100, 150, 200, 250], "labelExpr": "toString(datum.value)", "title": "Delay (ms)", "titleY": 27, "titleBaseline": "alphabetic"}},
    "y": {"field": "y", "type": "quantitative", "scale": {"domain": [-150, 100], "range": [157, 7]}, "axis": {"values": [-150, -100, -50, 0, 50, 100], "labelExpr": "toString(datum.value)", "title": "Threshold Reduction (%)", "titleX": -32.5, "titleY": 82, "titleBaseline": "alphabetic"}},
    "stroke": {"field": "s", "type": "nominal", "scale": {"domain": ["NC2", "Patient"], "range": ["#a8a8a8", "#ff6a1a"]}, "legend": null},
    "detail": {"field": "c"}}}
 ],
 "resolve": {"axis": {"x": "independent", "y": "independent"}}
},
{
 "width": 225, "height": 150,
 "data": {"name": "H"},
 "title": {"text": "H", "fontSize": 23.5, "dx": -70.6, "offset": -3},
 "layer": [
  {"mark": {"type": "rule", "color": "#111", "strokeWidth": 1.2, "strokeDash": [1.5, 2]},
   "encoding": {"x": {"datum": 1, "type": "quantitative", "axis": {"orient": "top", "title": "Simulated Ulnar sensory", "labels": false, "ticks": false, "domain": false, "titleY": -14, "titleBaseline": "alphabetic"}},
    "x2": {"datum": 1000}, "y": {"datum": 0, "type": "quantitative", "axis": null}}},
  {"mark": {"type": "line", "strokeWidth": 1.6, "interpolate": "monotone"},
   "encoding": {
    "x": {"field": "x", "type": "quantitative", "scale": {"type": "log", "domain": [1, 1000], "range": [0, 225]}, "axis": {"values": [1,2,3,4,5,6,7,8,9,10,20,30,40,50,60,70,80,90,100,200,300,400,500,600,700,800,900,1000], "labelExpr": "(datum.value == 1 || datum.value == 10 || datum.value == 100 || datum.value == 1000) ? toString(datum.value) : ''", "tickSize": {"condition": {"test": "datum.value == 1 || datum.value == 10 || datum.value == 100 || datum.value == 1000", "value": 3}, "value": 2}, "title": "Interstimulus interval (ms)", "titleY": 27, "titleBaseline": "alphabetic"}},
    "y": {"field": "y", "type": "quantitative", "scale": {"domain": [-40, 40]}, "axis": {"values": [-40, -20, 0, 20, 40], "labelExpr": "toString(datum.value)", "title": "Threshold change (%)", "titleX": -29.8, "titleY": 75, "titleBaseline": "alphabetic"}},
    "stroke": {"field": "s", "type": "nominal", "scale": {"domain": ["NC2", "Patient"], "range": ["#a8a8a8", "#ff6a1a"]}, "legend": null}}}
 ],
 "resolve": {"axis": {"x": "independent", "y": "independent"}}
}
],
"config": {
 "font": "Liberation Sans",
 "view": {"stroke": null},
 "axis": {"grid": false, "domain": true, "domainColor": "#1a1a1a", "domainWidth": 1.5, "tickColor": "#1a1a1a", "tickWidth": 1.2, "tickSize": 2.5, "labelFont": "Liberation Sans", "labelFontSize": 9.5, "labelFontWeight": "bold", "labelColor": "#111", "labelPadding": 0.5, "titleFont": "Liberation Sans", "titleFontSize": 10.5, "titleFontWeight": "bold", "titleColor": "#111", "labelFlush": false, "labelOverlap": false},
 "axisBottom": {"labelPadding": -0.5},
 "title": {"font": "Liberation Sans", "fontWeight": "bold", "color": "#000", "anchor": "start", "frame": "group", "baseline": "alphabetic"}
}
}
